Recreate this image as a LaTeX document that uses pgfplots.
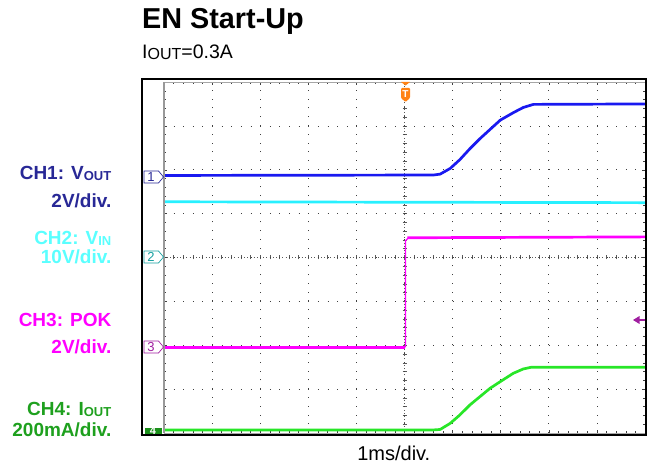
\documentclass[border=0pt]{standalone}
\usepackage{pgfplots}
\pgfplotsset{compat=1.18}
\usepackage{fontspec}
\setmainfont{Liberation Sans}

\definecolor{chonelab}{RGB}{40,40,150}
\definecolor{chone}{RGB}{25,25,240}
\definecolor{chtwolab}{RGB}{90,255,255}
\definecolor{chtwo}{RGB}{40,240,255}
\definecolor{chtwomark}{RGB}{20,160,160}
\definecolor{chthree}{RGB}{255,0,255}
\definecolor{chthreemark}{RGB}{160,30,160}
\definecolor{chfourlab}{RGB}{30,160,30}
\definecolor{chfour}{RGB}{40,230,40}
\definecolor{trig}{RGB}{255,130,20}

\newcommand{\lab}{\bfseries\fontsize{19}{20}\selectfont}
\newcommand{\sub}[1]{\raisebox{-1pt}{\fontsize{13}{13}\selectfont #1}}

\begin{document}
\begin{tikzpicture}[x=1pt,y=1pt]
\useasboundingbox (0,0) rectangle (647,466);

% titles
\node[anchor=base west, inner sep=0pt, font=\bfseries\fontsize{28.8}{30}\selectfont] at (142,437.7) {EN Start-Up};
\node[anchor=base west, inner sep=0pt, font=\fontsize{19.5}{21}\selectfont] at (142,407.7) {I{\raisebox{-1pt}{\fontsize{16}{16}\selectfont OUT}}=0.3A};

% channel labels
\begin{scope}[every node/.style={anchor=base east, inner sep=0pt, font=\lab}]
\node[text=chonelab] at (111.5,286) {CH1: V\sub{OUT}};
\node[text=chonelab] at (111.5,258.7) {2V/div.};
\node[text=chtwolab] at (111.5,221) {CH2: V\sub{IN}};
\node[text=chtwolab] at (111.5,202) {10V/div.};
\node[text=chthree] at (111.5,139.3) {CH3: POK};
\node[text=chthree] at (111.5,112.7) {2V/div.};
\node[text=chfourlab] at (111.5,51) {CH4: I\sub{OUT}};
\node[text=chfourlab] at (111.5,30) {200mA/div.};
\end{scope}
\node[anchor=base, inner sep=0pt, font=\fontsize{20}{21}\selectfont] at (393.8,6) {1ms/div.};

% centre crosshair of the screen
\draw[black!65, line width=0.6pt, dash pattern=on 1pt off 2.2pt] (164,208.5) -- (645,208.5);
\draw[black!65, line width=0.6pt, dash pattern=on 1pt off 2.2pt] (404.5,33) -- (404.5,384);
\foreach \i in {1,...,49} \draw[black!65, line width=0.5pt] ({164+\i*9.62},206.5) -- ++(0,4);
\foreach \j in {1,...,39} \draw[black!65, line width=0.5pt] (402.5,{33+\j*8.775}) -- ++(4,0);

\begin{axis}[
    at={(164pt,33pt)}, anchor=south west,
    scale only axis, width=481pt, height=351pt,
    xmin=0, xmax=10, ymin=0, ymax=8,
    xtick={0,...,10}, ytick={0,...,8},
    minor x tick num=4, minor y tick num=4,
    xticklabels={}, yticklabels={},
    tick align=inside,
    major tick length=3pt, minor tick length=2pt,
    tick style={black!75, line width=0.5pt},
    grid=major,
    major x grid style={black!75, line width=0.7pt, dash pattern=on 0.9pt off 7.875pt},
    major y grid style={black!75, line width=0.7pt, dash pattern=on 0.9pt off 8.72pt},
    axis line style={gray!70, line width=0.8pt},
]
% CH2 VIN
\addplot[chtwo, line width=2.7pt] coordinates {(0,5.27) (10,5.25)};
% CH1 VOUT
\addplot[chone, line width=2.7pt, line join=round] coordinates {
(0,5.87) (5.6,5.88) (5.74,5.90) (5.95,6.03) (6.15,6.23) (6.36,6.48)
(6.57,6.71) (6.78,6.92) (6.99,7.13) (7.26,7.30) (7.47,7.42) (7.68,7.49) (10,7.50)};
% CH3 POK
\addplot[chthree, line width=2.7pt] coordinates {(0,1.95) (5.02,1.95)};
\addplot[chthree, line width=1.2pt, line join=round] coordinates {(5.02,1.95) (5.02,4.38) (5.08,4.45)};
\addplot[chthree, line width=2.7pt] coordinates {(5.06,4.45) (10,4.47)};
% CH4 IOUT
\addplot[chfour, line width=2.7pt, line join=round] coordinates {
(0,0.07) (5.6,0.07) (5.74,0.08) (5.95,0.22) (6.15,0.41) (6.36,0.64)
(6.57,0.83) (6.78,1.02) (6.99,1.17) (7.26,1.36) (7.47,1.46) (7.64,1.50) (10,1.50)};
\end{axis}

% screen frame
\draw[gray!80, line width=2pt] (164,33) -- (164,384);
\draw[black, line width=1.4pt] (142,30.5) -- (142,387) -- (646,387) -- (646,30.5);
\draw[black, line width=2.6pt] (140.7,31) -- (647,31);

% channel markers
\begin{scope}[line width=0.7pt]
\draw[chonelab, fill=white] (144,295) -- (158.5,295) -- (163.5,289) -- (158.5,283) -- (144,283) -- cycle;
\node[text=chonelab, font=\fontsize{13}{13}\selectfont] at (151,289) {1};
\draw[chtwomark, fill=white] (144,215) -- (158.5,215) -- (163.5,209) -- (158.5,203) -- (144,203) -- cycle;
\node[text=chtwomark, font=\fontsize{13}{13}\selectfont] at (151,209) {2};
\draw[chthreemark, fill=white] (144,125) -- (158.5,125) -- (163.5,119) -- (158.5,113) -- (144,113) -- cycle;
\node[text=chthreemark, font=\fontsize{13}{13}\selectfont] at (151,119) {3};
\end{scope}
\begin{scope}
\clip (145,32.5) rectangle (162,38.5);
\fill[chfourlab!90!black] (145,32.5) rectangle (162,38.5);
\node[text=white, font=\bfseries\fontsize{11}{11}\selectfont] at (153,35) {4};
\end{scope}

% trigger marker
\fill[trig] (401,384) -- (410,384) -- (405.5,380.5) -- cycle;
\fill[trig, rounded corners=1pt] (401,378) -- (410,378) -- (410,368) -- (405.5,364) -- (401,368) -- cycle;
\node[text=white, font=\bfseries\fontsize{10}{10}\selectfont] at (405.5,372) {T};

% level marker on the right
\fill[chthreemark] (633,146) -- (639.5,150) -- (639.5,142) -- cycle;
\draw[chthreemark, line width=1.3pt] (638,146) -- (645,146);
\end{tikzpicture}
\end{document}
